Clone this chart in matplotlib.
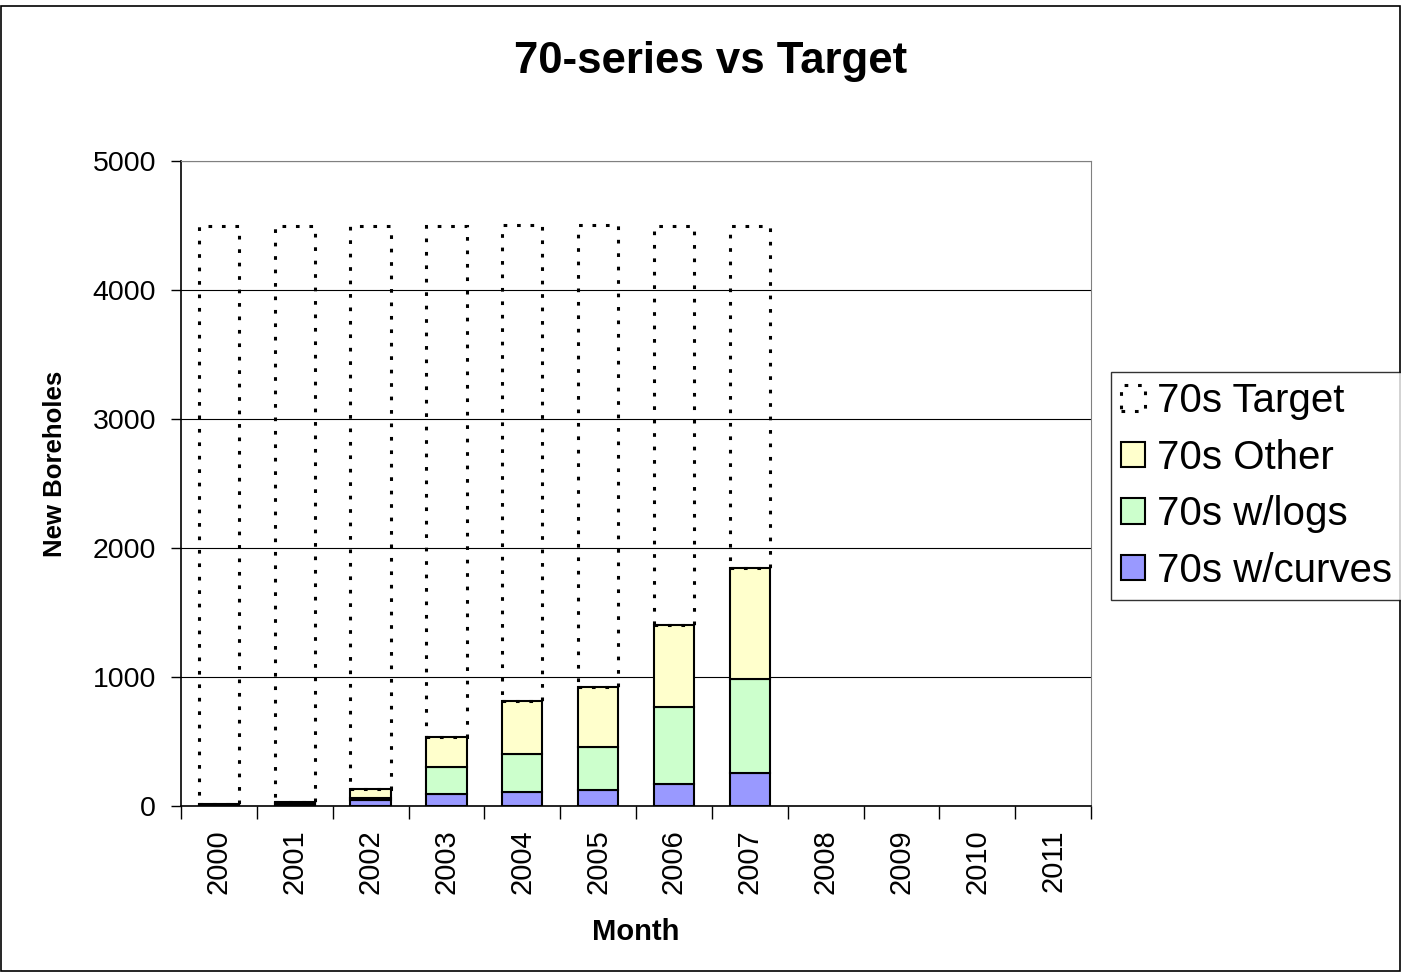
import matplotlib.pyplot as plt
import numpy as np
from matplotlib.patches import Rectangle

years = ['2000', '2001', '2002', '2003', '2004', '2005', '2006',
         '2007', '2008', '2009', '2010', '2011']
w_curves = [5, 10, 46, 95, 108, 127, 168, 256, 0, 0, 0, 0]
w_logs = [5, 10, 17, 207, 295, 333, 599, 728, 0, 0, 0, 0]
other = [5, 10, 69, 230, 408, 465, 636, 858, 0, 0, 0, 0]
target = [4500, 4500, 4500, 4500, 4500, 4500, 4500, 4500, 0, 0, 0, 0]


def main():
    plt.rcParams['font.family'] = ['Liberation Sans', 'DejaVu Sans']
    fig = plt.figure(figsize=(14.01, 9.75), dpi=100)
    ax = fig.add_axes([181/1401, 1-806/975, 910/1401, 645/975])

    x = np.arange(len(years))
    c = np.array(w_curves)
    l = np.array(w_logs)
    o = np.array(other)
    t = np.array(target)
    total = c + l + o
    width = 0.53
    n = int((t > 0).sum())

    b1 = ax.bar(x[:n], c[:n], width, color='#9999FF', edgecolor='black', linewidth=1.5, label='70s w/curves', zorder=3)
    b2 = ax.bar(x[:n], l[:n], width, bottom=c[:n], color='#CCFFCC', edgecolor='black', linewidth=1.5, label='70s w/logs', zorder=3)
    b3 = ax.bar(x[:n], o[:n], width, bottom=(c + l)[:n], color='#FFFFCC', edgecolor='black', linewidth=1.5, label='70s Other', zorder=3)
    rest = (t - total)[:n]
    b4 = ax.bar(x[:n], rest, width, bottom=total[:n], fill=False, edgecolor='black', linewidth=2.2,
                linestyle=(0, (1.2, 3.2)), label='70s Target', zorder=4)

    ax.set_xlim(-0.5, 11.5)
    ax.set_ylim(0, 5000)
    ax.set_yticks([0, 1000, 2000, 3000, 4000, 5000])
    ax.yaxis.grid(True, color='black', linewidth=0.8, zorder=0)
    ax.set_axisbelow(True)
    ax.set_xticks(x)
    ax.set_xticklabels(years, rotation=90, fontsize=21)
    ax.set_xticks(np.arange(-0.5, 12, 1), minor=True)
    ax.tick_params(axis='x', which='major', length=0, pad=17)
    ax.tick_params(axis='x', which='minor', length=9, width=1)
    ax.tick_params(axis='y', labelsize=20.5, length=7, width=1, pad=11)
    for s in ['top', 'right']:
        ax.spines[s].set_color('#808080')
    for s in ['left', 'bottom']:
        ax.spines[s].set_color('black')
        ax.spines[s].set_linewidth(1.2)

    fig.text(0.507, 1-62/975, '70-series vs Target', ha='center', va='center',
             fontsize=31.5, fontweight='bold')
    fig.text(636/1401, 1-932/975, 'Month', ha='center', va='center',
             fontsize=21, fontweight='bold')
    fig.text(55/1401, 1-464/975, 'New Boreholes', ha='center', va='center',
             rotation=90, fontsize=18.5, fontweight='bold')

    leg = fig.legend(handles=[b4, b3, b2, b1], loc='upper left',
                     bbox_to_anchor=(1111/1401, 1-372/975), fontsize=29,
                     frameon=True, fancybox=False, edgecolor='black',
                     handlelength=0.6, handleheight=0.6, handletextpad=0.3,
                     borderpad=0.25, labelspacing=0.46, borderaxespad=0)
    leg.get_frame().set_linewidth(1)

    fig.patches.append(Rectangle((0.0008, 0.004), 0.9984, 0.99, transform=fig.transFigure,
                                 fill=False, edgecolor='black', linewidth=1.2))
    fig.savefig('out.png', dpi=100)


if __name__ == '__main__':
    main()
